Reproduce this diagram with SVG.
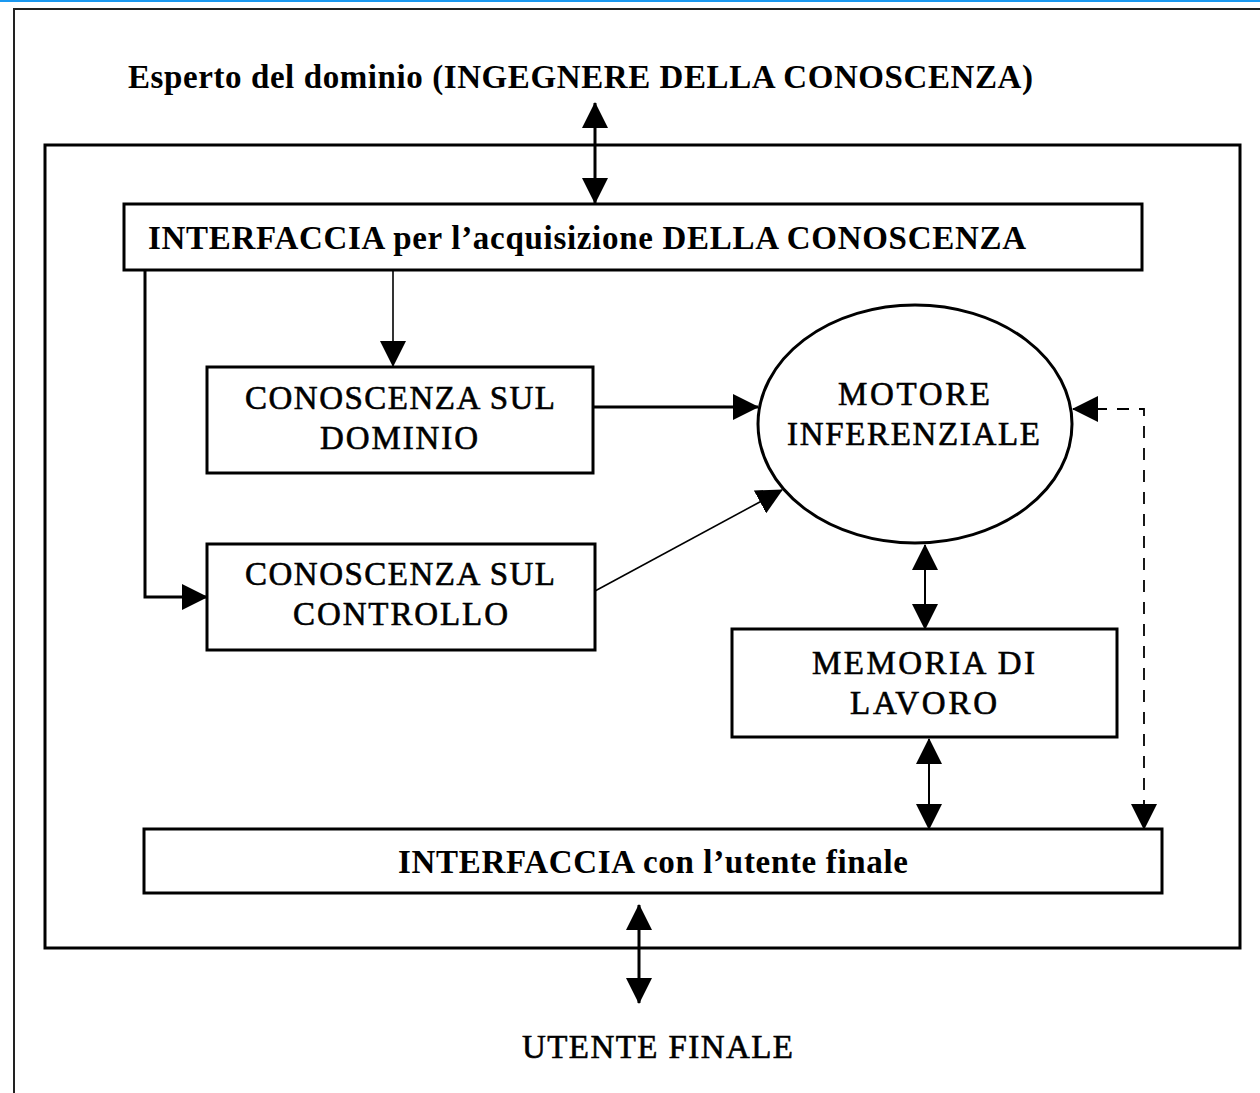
<svg xmlns="http://www.w3.org/2000/svg" width="1260" height="1093" viewBox="0 0 1260 1093">
<style>
  .box { fill: #fff; stroke: #000; stroke-width: 3; }
  .frame { fill: none; stroke: #000; stroke-width: 3; }
  .lbl { font-family: "Liberation Serif", "Times New Roman", serif; font-size: 33px; fill: #000; }
  .b { font-weight: bold; }
  .w { stroke: #000; stroke-width: 0.6; }
  .c { fill: none; stroke: #000; }
  .thick { stroke-width: 3; }
  .thin { stroke-width: 1.6; }
  .mid { stroke-width: 2; }
  .dash { stroke-dasharray: 12 10; stroke-width: 1.8; }
</style>
<defs>
  <marker id="ah" markerUnits="userSpaceOnUse" markerWidth="26" markerHeight="26" viewBox="0 0 26 26" refX="25" refY="13" orient="auto-start-reverse">
    <path d="M0,0 L26,13 L0,26 Z" fill="#000"/>
  </marker>
</defs>
<rect x="0" y="0" width="1260" height="1093" fill="#fff"/>
<rect x="0" y="0" width="1260" height="2" fill="#1a98f0"/>
<rect id="outer-frame" x="14" y="9" width="1300" height="1200" fill="none" stroke="#222" stroke-width="2"/>

<g id="title">
  <text class="lbl b" x="128" y="88" textLength="905" lengthAdjust="spacing">Esperto del dominio (INGEGNERE DELLA CONOSCENZA)</text>
</g>

<g id="system">
  <rect class="frame" x="45" y="145" width="1195" height="803"/>
</g>

<g id="connectors">
  <line class="c thick" x1="595" y1="103" x2="595" y2="203" marker-start="url(#ah)" marker-end="url(#ah)"/>
  <line class="c thin" x1="393" y1="270" x2="393" y2="366" marker-end="url(#ah)"/>
  <path class="c thick" d="M145,270 L145,597 L207,597" marker-end="url(#ah)"/>
  <line class="c thick" x1="593" y1="407" x2="758" y2="407" marker-end="url(#ah)"/>
  <line class="c thin" x1="595" y1="591" x2="782" y2="490" marker-end="url(#ah)"/>
  <line class="c mid" x1="925" y1="545" x2="925" y2="629" marker-start="url(#ah)" marker-end="url(#ah)"/>
  <line class="c mid" x1="929" y1="739" x2="929" y2="829" marker-start="url(#ah)" marker-end="url(#ah)"/>
  <path class="c dash" d="M1073,409 L1144,409 L1144,829" marker-start="url(#ah)" marker-end="url(#ah)"/>
  <line class="c thick" x1="639" y1="905" x2="639" y2="1003" marker-start="url(#ah)" marker-end="url(#ah)"/>
</g>

<g id="interfaccia-acquisizione">
  <rect class="box" x="124" y="204" width="1018" height="66"/>
  <text class="lbl b" x="148" y="249" textLength="878" lengthAdjust="spacing">INTERFACCIA per l&#8217;acquisizione DELLA CONOSCENZA</text>
</g>

<g id="conoscenza-dominio">
  <rect class="box" x="207" y="367" width="386" height="106"/>
  <text class="lbl w" x="245" y="409" textLength="310" lengthAdjust="spacing">CONOSCENZA SUL</text>
  <text class="lbl w" x="320" y="449" textLength="158" lengthAdjust="spacing">DOMINIO</text>
</g>

<g id="conoscenza-controllo">
  <rect class="box" x="207" y="544" width="388" height="106"/>
  <text class="lbl w" x="245" y="585" textLength="310" lengthAdjust="spacing">CONOSCENZA SUL</text>
  <text class="lbl w" x="293" y="625" textLength="215" lengthAdjust="spacing">CONTROLLO</text>
</g>

<g id="motore-inferenziale">
  <ellipse cx="915" cy="424" rx="157" ry="119" fill="#fff" stroke="#000" stroke-width="3"/>
  <text class="lbl w" x="838" y="405" textLength="152" lengthAdjust="spacing">MOTORE</text>
  <text class="lbl w" x="787" y="445" textLength="253" lengthAdjust="spacing">INFERENZIALE</text>
</g>

<g id="memoria-lavoro">
  <rect class="box" x="732" y="629" width="385" height="108"/>
  <text class="lbl w" x="812" y="674" textLength="223" lengthAdjust="spacing">MEMORIA DI</text>
  <text class="lbl w" x="850" y="714" textLength="147" lengthAdjust="spacing">LAVORO</text>
</g>

<g id="interfaccia-utente">
  <rect class="box" x="144" y="829" width="1018" height="64"/>
  <text class="lbl b" x="398" y="873" textLength="510" lengthAdjust="spacing">INTERFACCIA con l&#8217;utente finale</text>
</g>

<g id="utente-finale">
  <text class="lbl w" x="522" y="1058" textLength="271" lengthAdjust="spacing">UTENTE FINALE</text>
</g>
</svg>
